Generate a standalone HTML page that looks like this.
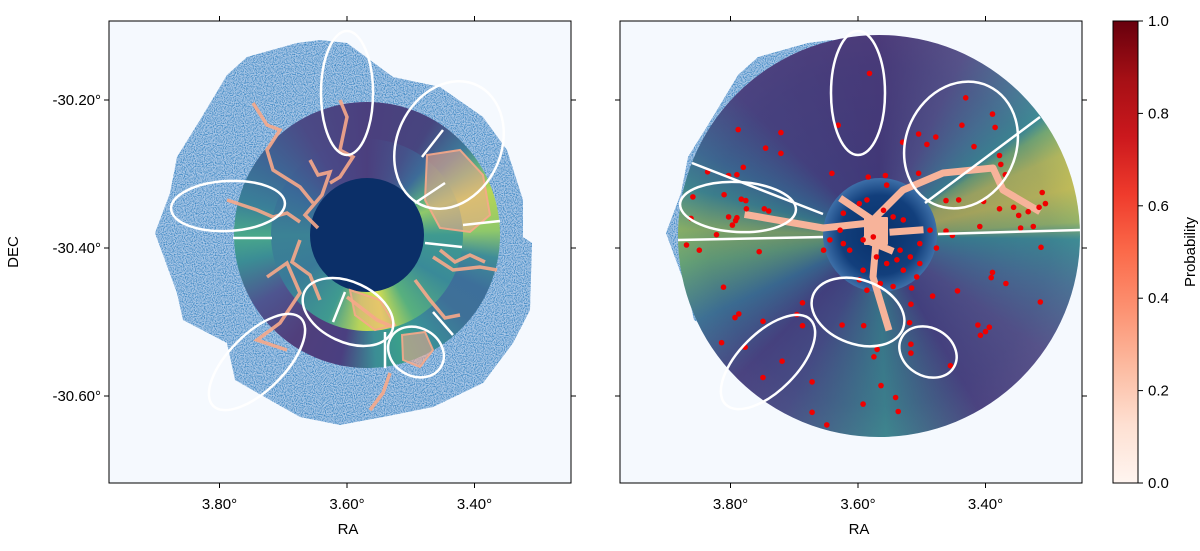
<!DOCTYPE html>
<html><head><meta charset="utf-8">
<style>
html,body{margin:0;padding:0;background:#fff;}
#wrap{position:relative;width:1200px;height:551px;overflow:hidden;font-family:"Liberation Sans","DejaVu Sans",sans-serif;}
svg{position:absolute;left:0;top:0;}
.ring{position:absolute;border-radius:50%;}
</style></head>
<body>
<div id="wrap">
<svg id="bg" width="1200" height="551">
  <defs>
    <filter id="speck" x="0" y="0" width="100%" height="100%">
      <feTurbulence type="fractalNoise" baseFrequency="0.9" numOctaves="1" seed="3" result="n"/>
      <feColorMatrix in="n" type="matrix" values="0 0 0 0 0.05  0 0 0 0 0.25  0 0 0 0 0.55  0 0 0 3.2 -1.3" result="c"/>
      <feComposite in="c" in2="SourceGraphic" operator="in"/>
    </filter>
  </defs>
  <rect x="109" y="21" width="462" height="462" fill="#f5f9fe"/>
  <rect x="620" y="21" width="462" height="462" fill="#f5f9fe"/>
  <g id="noiseL"></g>
  <g id="noiseR"></g>
</svg>

<div class="ring" style="left:234px;top:102px;width:266px;height:266px;background:conic-gradient(#4b3f7e 0deg,#47457f 30deg,#3e7a9a 48deg,#5fae80 58deg,#b8d655 70deg,#8fc86a 88deg,#3f8d98 100deg,#3d6f9a 115deg,#3e7098 130deg,#3a8f98 150deg,#3aa08a 162deg,#3b8d95 176deg,#4a3f80 192deg,#503f7c 215deg,#4e5590 238deg,#3b8d95 258deg,#4aa88a 270deg,#3a8098 285deg,#3d6796 305deg,#4b4a86 330deg,#4b3f7e 360deg);"></div>
<div class="ring" style="left:271px;top:139px;width:192px;height:192px;border:0;background:conic-gradient(#4b3f7e 0deg,#45528a 25deg,#3d6b98 40deg,#5aac80 58deg,#8fc86a 68deg,#3f9a90 90deg,#3a8a98 120deg,#58b07e 150deg,#d8e050 170deg,#b7d35a 185deg,#3f9a90 205deg,#3a7a98 240deg,#3b8295 270deg,#3a6a98 300deg,#4a4a88 330deg,#4b3f7e 360deg);"></div>
<div class="ring" style="left:678px;top:35px;width:402px;height:402px;background:conic-gradient(#5b3f7d 0deg,#6a5e92 25deg,#5a8aa0 42deg,#4aa8a0 54deg,#8fcc74 58deg,#e0e058 66deg,#f2e652 76deg,#b8da66 86deg,#4aa8a0 91deg,#5a86a0 105deg,#6a5e92 125deg,#5b4a86 150deg,#4aa098 178deg,#5a5a8e 208deg,#5a4a86 225deg,#4a86a0 245deg,#7cc478 262deg,#a8d464 272deg,#4aa098 284deg,#4a7a9c 295deg,#5b4a86 315deg,#5b3f7d 360deg);"></div>
<div class="ring" style="left:678px;top:35px;width:402px;height:402px;background:radial-gradient(circle,rgba(25,45,110,0.45) 0%,rgba(25,45,110,0.3) 60%,rgba(25,45,110,0.18) 78%,rgba(25,45,110,0) 82%);"></div>

<svg id="fg" width="1200" height="551">
  <defs>
    <linearGradient id="reds" x1="0" y1="1" x2="0" y2="0">
      <stop offset="0" stop-color="#fff5f0"/><stop offset="0.125" stop-color="#fee0d2"/>
      <stop offset="0.25" stop-color="#fcbba1"/><stop offset="0.375" stop-color="#fc9272"/>
      <stop offset="0.5" stop-color="#fb6a4a"/><stop offset="0.625" stop-color="#ef3b2c"/>
      <stop offset="0.75" stop-color="#cb181d"/><stop offset="0.875" stop-color="#a50f15"/>
      <stop offset="1" stop-color="#67000d"/>
    </linearGradient>
    <radialGradient id="coreR">
      <stop offset="0" stop-color="#08306b"/><stop offset="0.7" stop-color="#123f7c"/><stop offset="1" stop-color="#3d6fa8"/>
    </radialGradient>
    <clipPath id="clipL"><rect x="109" y="21" width="462" height="462"/></clipPath>
    <clipPath id="clipR"><rect x="620" y="21" width="462" height="462"/></clipPath>
  </defs>

  <g clip-path="url(#clipL)">
    <circle cx="367" cy="235" r="57" fill="#0b2f68"/>
    <g fill="none" stroke="#f7a98a" stroke-opacity="0.9" stroke-width="3.5" stroke-linejoin="miter">
      <polyline points="340,100 347,117 340,150 353,157 340,177 330,183"/>
      <polyline points="253,103 267,125 280,130 267,150 273,170 300,187 313,203"/>
      <polyline points="227,200 257,210 273,217 287,213 300,222"/>
      <polyline points="433,257 453,270 480,267 497,270"/>
      <polyline points="347,297 377,320 393,327"/>
      <polyline points="390,373 383,393 370,410"/>
      <polyline points="267,277 287,263 300,293 280,323 257,340 287,350"/>
      <polyline points="300,240 292,262 310,275 320,300"/>
      <polyline points="415,280 430,300 445,318 460,315"/>
      <polyline points="310,160 318,175 330,172 322,195 305,215 318,228"/>
      <polyline points="440,250 455,262 470,255 485,262"/>
      <polygon points="427,155 460,150 483,175 490,215 470,232 440,228 425,200" fill="#f7a98a" fill-opacity="0.55" stroke-width="2"/>
      <polygon points="402,335 425,332 433,350 420,367 403,360" fill="#f7a98a" fill-opacity="0.55" stroke-width="2"/>
      <polygon points="350,290 380,300 395,325 375,330 355,315" fill="#f7a98a" fill-opacity="0.45" stroke-width="2"/>
    </g>
    <g fill="none" stroke="#fff" stroke-width="2.5">
      <ellipse cx="347" cy="93" rx="26" ry="62"/>
      <ellipse cx="449" cy="145" rx="52" ry="66" transform="rotate(25 449 145)"/>
      <ellipse cx="228" cy="206" rx="57" ry="25" transform="rotate(-3 228 206)"/>
      <ellipse cx="348" cy="312" rx="48" ry="30" transform="rotate(25 348 312)"/>
      <ellipse cx="416" cy="352" rx="29" ry="24" transform="rotate(30 416 352)"/>
      <ellipse cx="257" cy="362" rx="62" ry="28" transform="rotate(-45 257 362)"/>
      <path d="M233,238 L272,238 M415,203 L445,183 M422,157 L443,130 M463,225 L500,221 M425,243 L462,247 M333,322 L345,292 M385,368 L385,332 M433,312 L453,335"/>
    </g>
  </g>

  <g clip-path="url(#clipR)">
    <circle cx="880" cy="235" r="57" fill="url(#coreR)"/>
    <g fill="none" stroke="#f7b39a" stroke-width="7" stroke-linejoin="round" stroke-linecap="square">
      <polyline points="748,215 823,228 870,223"/>
      <polyline points="870,223 903,190 943,173 993,168 1003,190 1037,210"/>
      <polyline points="877,230 873,277 888,327"/>
      <polyline points="843,200 877,223"/>
      <polyline points="893,232 920,230"/>
      <polyline points="866,240 890,250"/>
      <rect x="865" y="218" width="22" height="26" fill="#f7b39a" stroke-width="2"/>
    </g>
    <g id="pointsR"></g>
    <g fill="none" stroke="#fff" stroke-width="2.5">
      <ellipse cx="858" cy="93" rx="27" ry="62"/>
      <ellipse cx="961" cy="145" rx="55" ry="65" transform="rotate(25 961 145)"/>
      <ellipse cx="738" cy="207" rx="58" ry="25" transform="rotate(3 738 207)"/>
      <ellipse cx="858" cy="312" rx="48" ry="32" transform="rotate(20 858 312)"/>
      <ellipse cx="928" cy="352" rx="30" ry="24" transform="rotate(30 928 352)"/>
      <ellipse cx="768" cy="362" rx="60" ry="29" transform="rotate(-45 768 362)"/>
      <path d="M692,163 L823,214 M678,240 L823,237 M925,203 L1040,117 M938,234 L1080,230"/>
    </g>
  </g>

  <g id="axes" stroke="#000" fill="none" stroke-width="1"></g>
  <g id="labels" font-size="15" fill="#000"></g>

  <rect x="1113" y="21" width="25" height="462" fill="url(#reds)" stroke="#000" stroke-width="1"/>
  <g id="cbticks" font-size="15" fill="#000"></g>
  <text x="1195" y="252" font-size="15" text-anchor="middle" transform="rotate(-90 1195 252)">Probability</text>
</svg>
</div>

<script>
// ---- data ----
const raTicks = [3.80, 3.60, 3.40];
const decTicks = [-30.20, -30.40, -30.60];
const cbTicks = [0.0, 0.2, 0.4, 0.6, 0.8, 1.0];
const pointRA = [3.582,3.631,3.788,3.721,3.745,3.721,3.780,3.836,3.790,3.803,3.859,3.810,3.783,3.776,3.775,3.747,3.740,3.803,3.790,3.792,3.797,3.862,3.869,3.849,3.822,3.755,3.811,3.787,3.793,3.749,3.814,3.687,3.696,3.687,3.777,3.719,3.749,3.672,3.672,3.649,3.592,3.541,3.537,3.564,3.575,3.570,3.625,3.591,3.517,3.517,3.455,3.519,3.517,3.483,3.444,3.412,3.400,3.408,3.394,3.368,3.314,3.391,3.389,3.313,3.431,3.389,3.385,3.437,3.478,3.505,3.492,3.530,3.418,3.378,3.376,3.369,3.311,3.306,3.316,3.333,3.348,3.356,3.378,3.403,3.442,3.462,3.462,3.452,3.409,3.345,3.325,3.505,3.641,3.584,3.557,3.555,3.623,3.613,3.592,3.576,3.560,3.545,3.529,3.534,3.518,3.503,3.623,3.598,3.586,3.571,3.555,3.529,3.508,3.545,3.598,3.628,3.644,3.654,3.487,3.477,3.503,3.539,3.592,3.565,3.586,3.516];
const pointDEC = [-30.164,-30.234,-30.240,-30.244,-30.265,-30.272,-30.291,-30.297,-30.301,-30.302,-30.331,-30.328,-30.334,-30.336,-30.347,-30.347,-30.350,-30.358,-30.359,-30.363,-30.369,-30.360,-30.396,-30.403,-30.382,-30.405,-30.453,-30.489,-30.494,-30.499,-30.528,-30.505,-30.490,-30.474,-30.534,-30.553,-30.575,-30.581,-30.622,-30.639,-30.611,-30.602,-30.621,-30.586,-30.547,-30.537,-30.504,-30.505,-30.530,-30.542,-30.559,-30.501,-30.476,-30.465,-30.458,-30.504,-30.513,-30.518,-30.507,-30.448,-30.473,-30.440,-30.433,-30.399,-30.197,-30.219,-30.237,-30.234,-30.250,-30.246,-30.260,-30.257,-30.263,-30.275,-30.287,-30.301,-30.325,-30.340,-30.345,-30.351,-30.356,-30.345,-30.347,-30.337,-30.335,-30.336,-30.377,-30.383,-30.371,-30.373,-30.371,-30.299,-30.299,-30.304,-30.302,-30.315,-30.394,-30.403,-30.389,-30.385,-30.349,-30.358,-30.362,-30.403,-30.412,-30.394,-30.353,-30.340,-30.335,-30.412,-30.421,-30.430,-30.439,-30.452,-30.443,-30.376,-30.389,-30.403,-30.376,-30.400,-30.421,-30.416,-30.430,-30.448,-30.457,-30.454];

// ---- axis functions ----
const PX_PER_RA = 637.5, PX_PER_DEC = 740;
function xL(ra){ return 347 + (3.60 - ra) * PX_PER_RA; }
function xR(ra){ return 858 + (3.60 - ra) * PX_PER_RA; }
function yD(dec){ return 248 - (dec + 30.40) * PX_PER_DEC; }
function yCB(v){ return 483 - v * 462; }

const NS = 'http://www.w3.org/2000/svg';
function mk(tag, attrs, parent){ const e = document.createElementNS(NS, tag); for (const k in attrs) e.setAttribute(k, attrs[k]); parent.appendChild(e); return e; }

const foot = "227,75 247,57 297,43 320,40 347,43 393,77 440,87 483,117 507,150 523,200 523,237 532,243 530,310 513,343 483,383 433,407 383,417 340,425 300,417 235,380 227,343 183,320 177,293 155,233 170,193 177,157 200,120";
function shiftPts(s, dx){ return s.split(' ').map(p => { const [a,b] = p.split(',').map(Number); return (a+dx)+','+b; }).join(' '); }
const nL = document.getElementById('noiseL');
let p1 = mk('polygon', {points: foot, fill: '#a9c6e6'}, nL);


let p1b = mk('polygon', {points: foot, fill: '#fff', filter: 'url(#speck)'}, nL);


const nR = document.getElementById('noiseR');
let p2 = mk('polygon', {points: shiftPts(foot, 511), fill: '#a9c6e6'}, nR);


let p2b = mk('polygon', {points: shiftPts(foot, 511), fill: '#fff', filter: 'url(#speck)'}, nR);



const gP = document.getElementById('pointsR');
for (let i = 0; i < pointRA.length; i++) {
  const c = mk('circle', {cx: xR(pointRA[i]).toFixed(1), cy: yD(pointDEC[i]).toFixed(1), r: 2.8, fill: '#f00000'}, gP);
  
  
}

const gA = document.getElementById('axes');
const gL = document.getElementById('labels');
[[109, xL, 'left'], [620, xR, 'right']].forEach(([x0, fx, side]) => {
  const box = mk('rect', {x: x0, y: 21, width: 462, height: 462}, gA);
  
  
  raTicks.forEach(t => {
    const x = fx(t);
    const tk = mk('path', {d: `M${x},483 L${x},488 M${x},21 L${x},16`}, gA);
    
    
    const lb = mk('text', {x: x, y: 509, 'text-anchor': 'middle'}, gL);
    lb.textContent = t.toFixed(2) + '°';
    
    
  });
  decTicks.forEach(t => {
    const y = yD(t);
    const tk = mk('path', {d: `M${x0},${y} L${x0-5},${y} M${x0+462},${y} L${x0+467},${y}`}, gA);
    
    
    if (side === 'left') {
      const lb = mk('text', {x: x0 - 8, y: y + 5, 'text-anchor': 'end'}, gL);
      lb.textContent = t.toFixed(2) + '°';
      
      
    }
  });
  const xt = mk('text', {x: x0 + 231 + 8, y: 534, 'text-anchor': 'middle'}, gL);
  xt.textContent = 'RA';
  
  
});
const yt = mk('text', {x: 18, y: 252, 'text-anchor': 'middle', transform: 'rotate(-90 18 252)'}, gL);
yt.textContent = 'DEC';



const gC = document.getElementById('cbticks');
cbTicks.forEach(v => {
  const y = yCB(v);
  const tk = mk('path', {d: `M1138,${y} L1143,${y}`, stroke: '#000'}, gC);
  
  
  const lb = mk('text', {x: 1148, y: y + 5}, gC);
  lb.textContent = v.toFixed(1);
  
  
});
</script>
</body></html>
